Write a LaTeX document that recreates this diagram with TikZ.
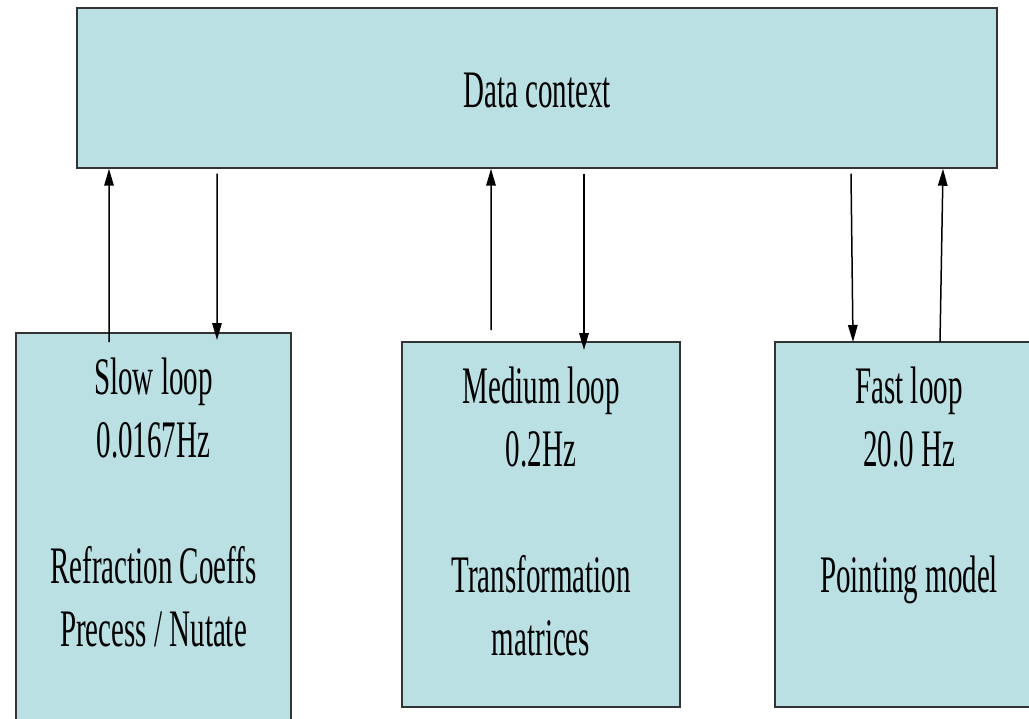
\documentclass[tikz,border=0pt]{standalone}
\usepackage{fontspec}
\setmainfont{Liberation Serif}[FakeStretch=0.55]
\usetikzlibrary{positioning,arrows.meta}
\definecolor{boxfill}{RGB}{186,224,227}
\definecolor{boxline}{RGB}{51,51,51}

\begin{document}
\begin{tikzpicture}[
	box/.style={draw=boxline, line width=0.03cm, fill=boxfill, inner sep=0, anchor=north, font=\fontsize{30}{35.85}\selectfont},
	looptext/.style={align=center, inner sep=0, anchor=north, font=\fontsize{30}{35.85}\selectfont},
	flow/.style={line width=0.03cm, -{Triangle[length=0.34cm,width=0.19cm]}}]
	\clip[use as bounding box] (0,0) rectangle (20.58,-14.38);
	\node[box, anchor=center, minimum width=18.4cm, minimum height=3.2cm] (ctx) at (10.74,-1.76) {};
	\node[anchor=base, inner sep=0, font=\fontsize{30}{35.85}\selectfont] (ctxtext) at (10.74,-2.16) {Data context};
	\node[box, minimum width=5.5cm, minimum height=7.96cm] (slow) at (3.07,-6.64) {};
	\node[box, minimum width=5.56cm, minimum height=7.3cm] (medium) at (10.82,-6.82) {};
	\node[box, minimum width=5.36cm, minimum height=7.3cm] (fast) at (18.18,-6.82) {};
	\node[looptext, below=0.52cm of slow.north] (slowtext) {Slow loop\\0.0167Hz\\[1.26cm]Refraction Coeffs\\Precess / Nutate};
	\node[looptext, below=0.52cm of medium.north] (mediumtext) {Medium loop\\0.2Hz\\[1.26cm]Transformation\\matrices};
	\node[looptext, below=0.52cm of fast.north] (fasttext) {Fast loop\\20.0 Hz\\[1.26cm]Pointing model};
	\draw[flow] ([xshift=-0.89cm,yshift=-0.2cm]slow.north) -- ([xshift=-8.56cm]ctx.south);
	\draw[flow] ([xshift=-6.4cm,yshift=-0.1cm]ctx.south) -- ([xshift=1.27cm,yshift=-0.16cm]slow.north);
	\draw[flow] ([xshift=-1cm,yshift=0.22cm]medium.north) -- ([xshift=-0.92cm]ctx.south);
	\draw[flow] ([xshift=0.94cm,yshift=-0.1cm]ctx.south) -- ([xshift=0.86cm,yshift=-0.18cm]medium.north);
	\draw[flow] ([xshift=6.28cm,yshift=-0.1cm]ctx.south) -- ([xshift=-1.12cm,yshift=-0.02cm]fast.north);
	\draw[flow] ([xshift=0.62cm,yshift=-0.02cm]fast.north) -- ([xshift=8.12cm]ctx.south);
\end{tikzpicture}
\end{document}
